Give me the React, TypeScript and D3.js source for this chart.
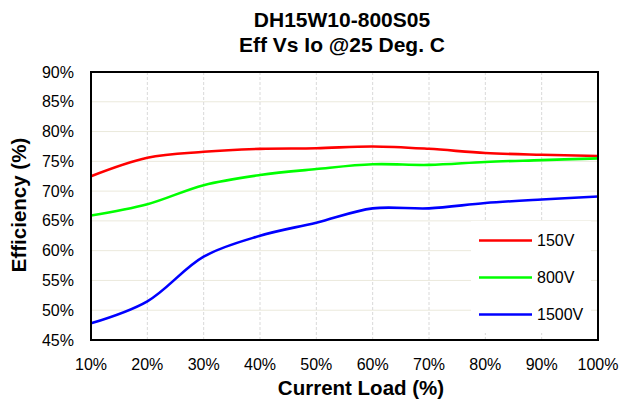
import React, { useEffect, useRef } from 'react';
import * as d3 from 'd3';

const loads = [10, 20, 30, 40, 50, 60, 70, 80, 90, 100];
const eff150 = [72.5, 75.6, 76.6, 77.1, 77.2, 77.5, 77.1, 76.4, 76.1, 75.9];
const eff800 = [65.9, 67.8, 71.0, 72.7, 73.7, 74.5, 74.4, 74.9, 75.2, 75.5];
const eff1500 = [47.8, 51.5, 59.0, 62.5, 64.7, 67.1, 67.1, 68.0, 68.6, 69.1];
const yTicks = [45, 50, 55, 60, 65, 70, 75, 80, 85, 90];

const series = [
    { name: '150V', color: '#ff0000', values: eff150 },
    { name: '800V', color: '#00ff00', values: eff800 },
    { name: '1500V', color: '#0000ff', values: eff1500 },
];

const width = 622;
const height = 405;
const margin = { top: 72, right: 24, bottom: 65, left: 91 };
const font = 'Arial, "Liberation Sans", sans-serif';

export default function App() {
    const ref = useRef<SVGSVGElement>(null);

    useEffect(() => {
        const svg = d3.select(ref.current);
        svg.selectAll('*').remove();

        const x = d3.scaleLinear()
            .domain([10, 100])
            .range([margin.left, width - margin.right]);

        const y = d3.scaleLinear()
            .domain([45, 90])
            .range([height - margin.bottom, margin.top]);

        // Title
        const title = svg.append('g')
            .attr('font-family', font)
            .attr('font-weight', 'bold')
            .attr('font-size', 21)
            .attr('text-anchor', 'middle');
        title.append('text').attr('x', 342).attr('y', 27).text('DH15W10-800S05');
        title.append('text').attr('x', 342).attr('y', 52).text('Eff Vs Io @25 Deg. C');

        // Horizontal grid
        svg.append('g')
            .selectAll('line')
            .data(yTicks)
            .join('line')
            .attr('x1', margin.left)
            .attr('x2', width - margin.right)
            .attr('y1', d => y(d))
            .attr('y2', d => y(d))
            .attr('stroke', '#ebe9dc')
            .attr('stroke-width', 1);

        // Vertical grid (dashed)
        svg.append('g')
            .selectAll('line')
            .data(loads)
            .join('line')
            .attr('x1', d => x(d))
            .attr('x2', d => x(d))
            .attr('y1', margin.top)
            .attr('y2', height - margin.bottom)
            .attr('stroke', '#d9d9d9')
            .attr('stroke-dasharray', '3,2')
            .attr('stroke-width', 1);

        // Legend background
        svg.append('rect')
            .attr('x', 471)
            .attr('y', 221)
            .attr('width', 120)
            .attr('height', 112)
            .attr('fill', '#ffffff');

        // Lines
        const line = d3.line<number>()
            .x((_, i) => x(loads[i]))
            .y(d => y(d))
            .curve(d3.curveCatmullRom.alpha(0.5));

        svg.append('g')
            .selectAll('path')
            .data(series)
            .join('path')
            .attr('fill', 'none')
            .attr('stroke', d => d.color)
            .attr('stroke-width', 2.6)
            .attr('stroke-linejoin', 'round')
            .attr('d', d => line(d.values));

        // Plot border
        svg.append('rect')
            .attr('x', margin.left)
            .attr('y', margin.top)
            .attr('width', width - margin.left - margin.right)
            .attr('height', height - margin.top - margin.bottom)
            .attr('fill', 'none')
            .attr('stroke', '#000')
            .attr('stroke-width', 2);

        // Y tick labels
        svg.append('g')
            .attr('font-family', font)
            .attr('font-size', 16)
            .attr('text-anchor', 'end')
            .selectAll('text')
            .data(yTicks)
            .join('text')
            .attr('x', margin.left - 17)
            .attr('y', d => y(d))
            .attr('dy', '0.35em')
            .text(d => `${d}%`);

        // X tick labels
        svg.append('g')
            .attr('font-family', font)
            .attr('font-size', 16)
            .attr('text-anchor', 'middle')
            .selectAll('text')
            .data(loads)
            .join('text')
            .attr('x', d => x(d))
            .attr('y', 370)
            .text(d => `${d}%`);

        // Axis titles
        svg.append('text')
            .attr('font-family', font)
            .attr('font-weight', 'bold')
            .attr('font-size', 20.5)
            .attr('text-anchor', 'middle')
            .attr('x', 361)
            .attr('y', 395)
            .text('Current Load (%)');

        svg.append('text')
            .attr('font-family', font)
            .attr('font-weight', 'bold')
            .attr('font-size', 20.5)
            .attr('text-anchor', 'middle')
            .attr('transform', `translate(26,205) rotate(-90)`)
            .text('Efficiency (%)');

        // Legend
        const legend = svg.append('g')
            .selectAll('g')
            .data(series)
            .join('g')
            .attr('transform', (_, i) => `translate(479,${240.5 + i * 37})`);
        legend.append('line')
            .attr('x1', 0)
            .attr('x2', 53)
            .attr('stroke', d => d.color)
            .attr('stroke-width', 2.6);
        legend.append('text')
            .attr('x', 58)
            .attr('dy', '0.35em')
            .attr('font-family', font)
            .attr('font-size', 16)
            .text(d => d.name);
    }, []);

    return (
        <svg
            ref={ref}
            width={width}
            height={height}
            style={{ position: 'absolute', left: 0, top: 0, background: '#fff' }}
        />
    );
}
